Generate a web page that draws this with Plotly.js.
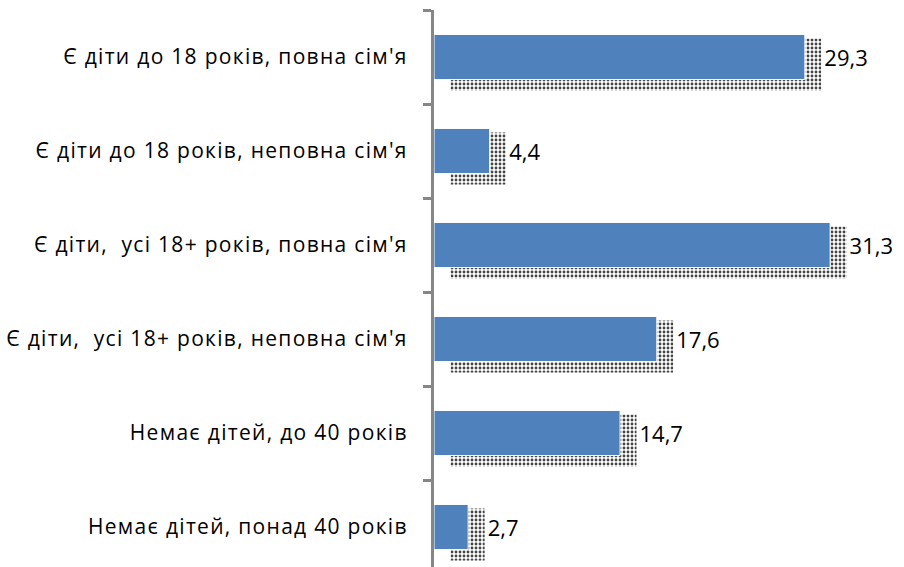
<!DOCTYPE html>
<html><head><meta charset="utf-8">
<script src="https://cdn.plot.ly/plotly-3.0.1.min.js"></script>
<style>html,body{margin:0;padding:0;overflow:hidden;background:#fff}#chart{width:904px;height:580px}
#chart .ytick text{letter-spacing:1.3px}</style>
</head><body><div id="chart"></div>
<script>
const categories = [
  "Є діти до 18 років, повна сім'я",
  "Є діти до 18 років, неповна сім'я",
  "Є діти,  усі 18+ років, повна сім'я",
  "Є діти,  усі 18+ років, неповна сім'я",
  "Немає дітей, до 40 років",
  "Немає дітей, понад 40 років"
];
const values = [29.3, 4.4, 31.3, 17.6, 14.7, 2.7];
const valueLabels = values.map(v => v.toFixed(1).replace('.', ','));

const FONT = 'Open Sans, Liberation Sans, sans-serif';
const shadow = {
  type: 'bar', orientation: 'h', y: categories, x: values, base: 1.3,
  width: 0.554, offset: -0.197,
  marker: {color: '#ffffff', line: {width: 0},
    pattern: {shape: '.', fgcolor: '#444', bgcolor: '#ffffff', size: 4, solidity: 0.4, fillmode: 'replace'}},
  hoverinfo: 'skip', showlegend: false
};
const main = {
  type: 'bar', orientation: 'h', y: categories, x: values,
  width: 0.48, offset: -0.24,
  marker: {color: '#4F81BD', line: {color: '#ffffff', width: 1}},
  showlegend: false
};
const labels = {
  type: 'bar', orientation: 'h', y: categories, x: values, base: 1.3,
  width: 0.48, offset: -0.24,
  marker: {color: 'rgba(0,0,0,0)', line: {width: 0}},
  text: valueLabels, textposition: 'outside', cliponaxis: false,
  textfont: {family: FONT, size: 22, color: '#000'},
  hoverinfo: 'skip', showlegend: false
};
const layout = {
  width: 904, height: 580,
  margin: {l: 434, r: 27, t: 10, b: 6},
  barmode: 'overlay',
  paper_bgcolor: '#fff', plot_bgcolor: '#fff',
  font: {family: FONT, size: 21, color: '#000'},
  xaxis: {range: [0, 35], visible: false, showgrid: false, zeroline: false, fixedrange: true},
  yaxis: {type: 'category', autorange: 'reversed', showline: true, linecolor: '#868686', linewidth: 3,
    ticks: 'outside', tickson: 'boundaries', ticklen: 8, tickwidth: 3, tickcolor: '#868686',
    ticklabelstandoff: 19, showgrid: false, zeroline: false,
    tickfont: {family: FONT, size: 21, color: '#000'}}
};
Plotly.newPlot('chart', [shadow, main, labels], layout, {displayModeBar: false, staticPlot: true});
</script></body></html>
